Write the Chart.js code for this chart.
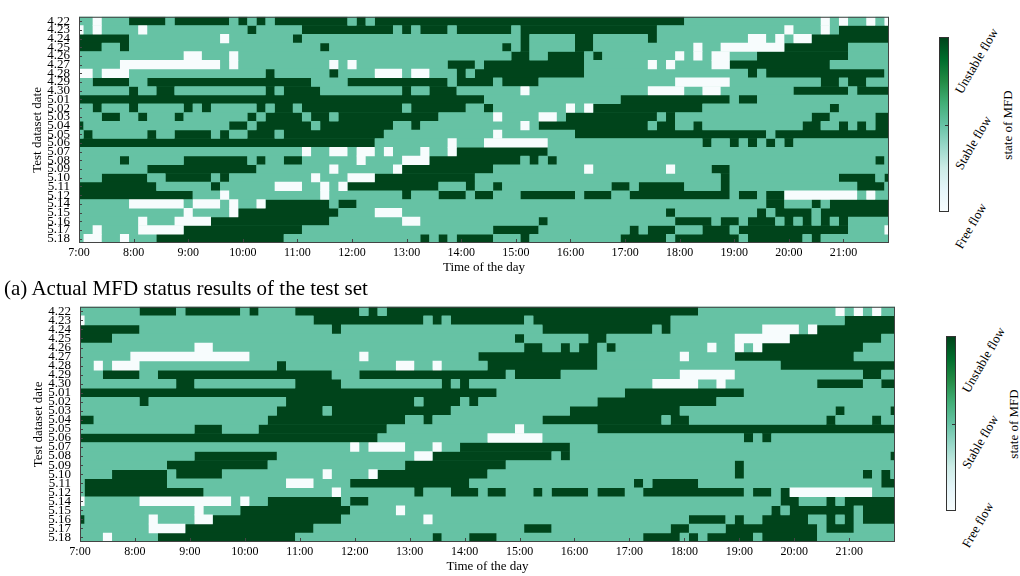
<!DOCTYPE html>
<html>
<head>
<meta charset="utf-8">
<title>MFD status of the test set</title>
<script src="https://cdn.jsdelivr.net/npm/chart.js@4.4.1/dist/chart.umd.min.js"></script>
<style>
  html, body { margin: 0; padding: 0; background: #fff; }
  body { width: 1020px; height: 576px; position: relative; overflow: hidden;
         font-family: "Liberation Serif", "DejaVu Serif", serif; color: #000; }
  canvas { position: absolute; left: 0; }
  .cbar { position: absolute; width: 10px; height: 175px; box-sizing: border-box; border: 1px solid #333;
          background: linear-gradient(to top, #f7fcfd 0%, #e5f5f9 12.5%, #ccece6 25%, #99d8c9 37.5%,
                      #66c2a4 50%, #41ae76 62.5%, #238b45 75%, #006d2c 87.5%, #00441b 100%); }
  .cbar .tick { position: absolute; right: 0; top: 50%; width: 3px; height: 1px; background: #333; }
  .clabel { position: absolute; font-size: 13px; line-height: 13px; white-space: nowrap; transform-origin: 0 50%; }
  .ctitle { position: absolute; font-size: 13px; line-height: 13px; white-space: nowrap;
            transform: translate(-50%, -50%) rotate(-90deg); }
  .caption { position: absolute; left: 4px; top: 278px; font-size: 21px; line-height: 21px; white-space: nowrap; }
</style>
</head>
<body>
<canvas id="actual" style="top:0" width="910" height="279"></canvas>
<canvas id="predicted" style="top:290px" width="910" height="288"></canvas>
<div class="caption">(a) Actual MFD status results of the test set</div>

<script>
// rows = test days, columns = 10-minute slots from 7:00 to 21:50
const dates = ['4.22', '4.23', '4.24', '4.25', '4.26', '4.27', '4.28', '4.29', '4.30',
  '5.01', '5.02', '5.03', '5.04', '5.05', '5.06', '5.07', '5.08', '5.09', '5.10', '5.11',
  '5.12', '5.14', '5.15', '5.16', '5.17', '5.18'];
const timeLabels = ['7:00', '8:00', '9:00', '10:00', '11:00', '12:00', '13:00', '14:00',
  '15:00', '16:00', '17:00', '18:00', '19:00', '20:00', '21:00'];
const stateNames = ['Free flow', 'Stable flow', 'Unstable flow'];
const step = 10;        // minutes per cell
const columnCount = 90; // 7:00 ... 21:50

// 0 = free flow, 1 = stable flow, 2 = unstable flow
// each row is written in four pieces: 7:00-10:40, 10:50-14:10, 14:20-18:10, 18:20-21:50
const actualStates = [
  '11011122221222222121212 222222212122222222222 222222222222222222222221 1111111111111101011010',
  '01011110111111111112111 112222222222121222122 222212222222222222221111 1111111111011101222222',
  '22222211111111110111111 121111111111111111111 111112111112211111121111 1111110010100222222222',
  '22211211111111111111111 111121111111111111111 111212111112211111111111 0110000000222222211111',
  '11111111111100111011111 111111111111111111111 111122112222121111111101 0100111222222222211111',
  '11111000000000001011111 111110101111111111222 122222222222111111101011 1100222222222221111111',
  '00100011111111111111121 111112111100010011121 222222222222111111111111 1111112122222222222221',
  '11222211222222222222222 222111122222222222122 221222211111111111111100 0000111111111122122111',
  '11111121122111111111121 222211111111121122211 111110111111111111100001 1001111111122222212222',
  '22222222222222222222222 222222222222222222222 211111111111111122222222 2222122111111111111111',
  '11211121111121211111212 212222222222212222221 121111111101022222222222 2111111111111112111111',
  '11122112111211111112122 221221222222222221111 110111100122222222221211 1111111111111221111122',
  '21111111111111111221222 222122222222112111111 111110122222222222212211 2111111111112211212122',
  '12111111211222212112221 222222222221111111111 110111111112222222222222 2222222212222222222222',
  '22222222222222222222222 222222222211111111011 100000001111111111111111 1211212121211111111111',
  '11111111111111111111111 110110010010111011022 222222221111111111111111 1111111111111111111111',
  '11111211111122222221211 221111110111100022222 222221212111111111111111 1111111111111111111121',
  '11111111222222222222111 111110111111022222222 221111111111011111111011 1122111111111111111111',
  '11122222112222212111111 111011100022222222222 111111111111111111111111 1112111111111111222212',
  '22222222211111121111110 001101022222222221112 112111111111111221222221 1112111111111111112221',
  '22222222222221110111111 111101111111121112221 221112222221222112222222 2222122122000000001011',
  '11111100000010001011022 222221221111111111111 111111111111111111111111 1111111122111212222222',
  '11111111111101111022222 222222111100011111111 111111111111111111111211 1111111212222122222222',
  '11111110111000022222222 222221111111100111111 111111121111111111111122 2212212221212121211111',
  '11011110000022222222222 221111111111111111111 112222211111111112122211 1222122222222222211110',
  '10011011122222222222222 111111111111111212122 221112111111111122222122 2222212222221211111111'
];
const predictedStates = [
  '11111112222122222212111 122222221212222222222 222222222222222222222222 1111111111111110101011',
  '01111111111111111111111 111222222222222121222 222221222222222222222111 1111111111111111222222',
  '22222221111111111111111 111112111111111111111 111111122222222222212111 1111111000010222222222',
  '22221111111111111111111 111111111111111111111 111121111111221111111111 1111000000222222222211',
  '11111111111110011111111 111111111111111111111 111112211212212111111111 1011010222222222221111',
  '11111100000000000001111 111111110111111111111 222222222222211111111101 1111222222222222211111',
  '11010001111111111111112 111111111111001101111 122222222222211111111111 1111111112222222222222',
  '11122221122222222222222 222221112222222222222 222122222111111111111100 0000111111111111112211',
  '11111111111221111111111 122222111111111112121 111111111111111111100000 1101111111111222221122',
  '22222222222222222222222 222222222222222222222 221111111111111122222222 2222211111111111111111',
  '11111112111111111111111 222222222222221222212 111111111111122222222222 2211111111111111111111',
  '11111111111111111111112 222212222222222222111 111111111122222222222211 1111111111111112111112',
  '22111111111111111111122 222222222222211211111 111111122222222222221221 1111111111111121111211',
  '11111111111112221111222 222222222221111111111 111101111111122222222222 2222222222222222222222',
  '22222222222222222222222 222222222211111111111 100000011111111111111111 1111121211111111111111',
  '11111111111111111111111 111111101000011101122 222222222211111111111111 1111111111111111111111',
  '11111111111112222222221 111111111111110022222 222222221211111111111111 1111111111111111111112',
  '11111111112222222222211 111111111111122222222 222111111111111111111111 1111211111111111111111',
  '11112222221222221111111 111101111022222222222 211111111111111111111111 1111211111111111112121',
  '12222222221111111111111 000111122222222222221 111111111111111112122222 1111111111111111111122',
  '12222222222222111111111 111110111111112111222 122111212222122211222222 2222212212000000000111',
  '01111110000000000101122 222222122111111111111 111111111111111111111111 1111111112211121222222',
  '11111111111110111122222 222222211111011111111 111111111111111111111111 1111111121222222212222',
  '21111111011110022222222 222222111111111011111 111111111111111111111112 2221211222221121212222',
  '11111111000022222222222 222111111111111111111 111112221111111111111221 1112222222222122211111',
  '11101111122222222222222 211111111111111121112 221111111111111111222212 1222221222222111111111'
];

const palette = ['#f7fcfd', '#66c2a4', '#00441b'];
const segWidths = [23, 21, 24, 22];
const serif = "'Liberation Serif', 'DejaVu Serif', serif";

Chart.defaults.font.family = serif;
Chart.defaults.color = '#000';

function parseRows(rows) {
  return rows.map(r => r.split(' ').map((p, i) => {
    while (p.length < segWidths[i]) p += p[p.length - 1];
    return p.slice(0, segWidths[i]);
  }).join(''));
}

// one dataset per state; a run of equal cells in a row becomes one floating bar
function buildDatasets(rows) {
  return stateNames.map((name, s) => {
    const data = [];
    rows.forEach((row, r) => {
      let k = 0;
      while (k < row.length) {
        if (+row[k] !== s) { k++; continue; }
        let e = k;
        while (e + 1 < row.length && +row[e + 1] === s) e++;
        data.push({ y: dates[r], x: [k * step - step / 2, e * step + step / 2] });
        k = e + 1;
      }
    });
    return {
      label: name, data: data,
      backgroundColor: palette[s], borderWidth: 0, borderSkipped: false,
      grouped: false, barPercentage: 1.06, categoryPercentage: 1, clip: 0
    };
  });
}

const framePlugin = {
  id: 'frame',
  beforeDatasetsDraw(chart) {
    const { ctx, chartArea: a } = chart;
    ctx.save();
    ctx.fillStyle = palette[1];
    ctx.fillRect(a.left, a.top, a.right - a.left, a.bottom - a.top);
    ctx.restore();
  },
  afterDraw(chart) {
    const { ctx, chartArea: a, scales } = chart;
    ctx.save();
    ctx.strokeStyle = '#444';
    ctx.lineWidth = 1;
    ctx.strokeRect(a.left + 0.5, a.top + 0.5, a.right - a.left - 1, a.bottom - a.top - 1);
    ctx.beginPath();
    scales.x.ticks.forEach((t, i) => {
      const px = Math.round(scales.x.getPixelForTick(i)) + 0.5;
      ctx.moveTo(px, a.bottom);
      ctx.lineTo(px, a.bottom - 4);
    });
    scales.y.ticks.forEach((t, i) => {
      const py = Math.round(scales.y.getPixelForTick(i)) + 0.5;
      ctx.moveTo(a.left, py);
      ctx.lineTo(a.left + 3, py);
    });
    ctx.stroke();
    ctx.restore();
  }
};

function drawPanel(id, states, pad) {
  return new Chart(document.getElementById(id), {
    type: 'bar',
    data: { labels: dates, datasets: buildDatasets(parseRows(states)) },
    options: {
      indexAxis: 'y',
      responsive: false,
      animation: false,
      devicePixelRatio: 1,
      layout: { padding: pad },
      plugins: { legend: { display: false }, tooltip: { enabled: false } },
      scales: {
        x: {
          type: 'linear', min: 0, max: (columnCount - 1) * step,
          grid: { display: false, drawTicks: false }, border: { display: false },
          ticks: {
            stepSize: 60, includeBounds: false, autoSkip: false, maxRotation: 0,
            padding: 3, font: { size: 12 },
            callback: v => timeLabels[v / 60]
          },
          title: { display: true, text: 'Time of the day', font: { size: 13 } },
          afterFit: s => { s.height = 36; }
        },
        y: {
          type: 'category', offset: true,
          grid: { display: false, drawTicks: false }, border: { display: false },
          ticks: { autoSkip: false, padding: 9, font: { size: 13 } },
          title: { display: true, text: 'Test dataset date', font: { size: 13 } },
          afterFit: s => { s.width = 53; }
        }
      }
    },
    plugins: [framePlugin]
  });
}

drawPanel('actual', actualStates, { left: 26, right: 21, top: 6, bottom: 0 });
drawPanel('predicted', predictedStates, { left: 27, right: 15, top: 14, bottom: 0 });

// colour bars with their rotated state labels
const meas = document.createElement('canvas').getContext('2d');
meas.font = '13px ' + serif;

function addColorbar(left, top, height, titleX) {
  const bar = document.createElement('div');
  bar.className = 'cbar';
  bar.style.left = left + 'px';
  bar.style.top = top + 'px';
  bar.style.height = height + 'px';
  bar.innerHTML = '<div class="tick"></div>';
  document.body.appendChild(bar);

  stateNames.forEach((name, s) => {
    const tickY = top + height * (1 - s / 2);
    const w = meas.measureText(name).width;
    const el = document.createElement('div');
    el.className = 'clabel';
    el.textContent = name;
    el.style.left = (left + 19) + 'px';
    el.style.top = (tickY - 8 + w * Math.sin(Math.PI / 3) - 6.5) + 'px';
    el.style.transform = 'rotate(-60deg)';
    document.body.appendChild(el);
  });

  const t = document.createElement('div');
  t.className = 'ctitle';
  t.textContent = 'state of MFD';
  t.style.left = titleX + 'px';
  t.style.top = (top + height / 2) + 'px';
  document.body.appendChild(t);
}

addColorbar(939, 37, 175, 1007);
addColorbar(946, 336, 175, 1013);
</script>
</body>
</html>
